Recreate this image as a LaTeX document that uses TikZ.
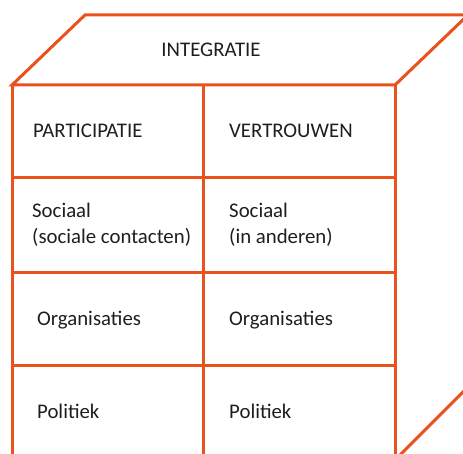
\documentclass[tikz,border=0pt]{standalone}
\usepackage{fontspec}
\setmainfont{Carlito}
\definecolor{cubeline}{RGB}{233,81,29}
\definecolor{txt}{RGB}{30,30,30}
\tikzset{
  edge/.style={draw=cubeline,line width=3bp,line join=miter},
  lbl/.style={inner sep=0pt,anchor=base west,text=txt,font=\fontsize{20.8bp}{25bp}\selectfont,align=left},
  title/.style={inner sep=0pt,anchor=base,text=txt,font=\fontsize{20.8bp}{25bp}\selectfont}
}
\begin{document}
\begin{tikzpicture}[x=1bp,y=-1bp]
\useasboundingbox (0,0) rectangle (463,454);
\clip (0,0) rectangle (463,454);
% corners
\coordinate (tl) at (12,85);
\coordinate (tm) at (203,85);
\coordinate (tr) at (395,85);
\coordinate (bl) at (12,460);
\coordinate (bm) at (203,460);
\coordinate (br) at (395,460);
\coordinate (btl) at (85,15);
\coordinate (btr) at (468,15);
\coordinate (rbr) at (468,387);
\coordinate (l1) at (12,178);
\coordinate (r1) at (395,178);
\coordinate (l2) at (12,272);
\coordinate (r2) at (395,272);
\coordinate (l3) at (12,365);
\coordinate (r3) at (395,365);
% top face
\draw[edge] (tl) -- (btl) -- (btr) -- (tr) -- cycle;
% front face
\draw[edge] (tl) -- (bl);
\draw[edge] (tm) -- (bm);
\draw[edge] (tr) -- (br);
\draw[edge] (l1) -- (r1);
\draw[edge] (l2) -- (r2);
\draw[edge] (l3) -- (r3);
% right face
\draw[edge] (br) -- (rbr);
% texts
\node[title] (integratie) at (211,57) {INTEGRATIE};
\node[lbl] (participatie) at (33,138) {PARTICIPATIE};
\node[lbl] (vertrouwen) at (229,138) {VERTROUWEN};
\node[lbl] (sociaalA) at (32,243) {Sociaal\\(sociale contacten)};
\node[lbl] (sociaalB) at (229,243) {Sociaal\\(in anderen)};
\node[lbl] (orgA) at (37,325) {Organisaties};
\node[lbl] (orgB) at (229,325) {Organisaties};
\node[lbl] (polA) at (37,418) {Politiek};
\node[lbl] (polB) at (229,418) {Politiek};
\end{tikzpicture}
\end{document}
